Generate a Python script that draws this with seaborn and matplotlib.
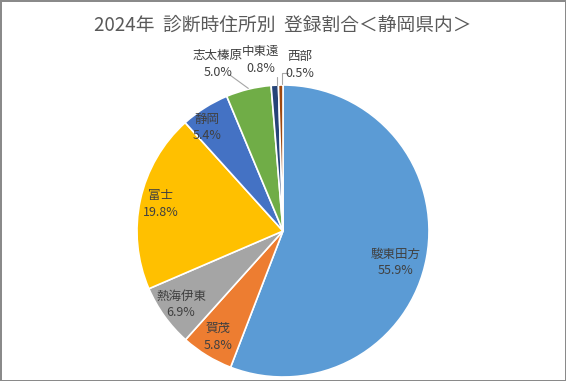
import numpy as np
import matplotlib
import seaborn as sns
import matplotlib.pyplot as plt

matplotlib.use("Agg")
sns.set_theme(style="white")
plt.rcParams["font.family"] = ["Noto Sans CJK JP", "DejaVu Sans"]

# data
regions = ["駿東田方", "賀茂", "熱海伊東", "富士", "静岡", "志太榛原", "中東遠", "西部"]
shares = [55.9, 5.8, 6.9, 19.8, 5.4, 5.0, 0.8, 0.5]
pct_labels = ["55.9%", "5.8%", "6.9%", "19.8%", "5.4%", "5.0%", "0.8%", "0.5%"]
title = "2024年  診断時住所別  登録割合＜静岡県内＞"

colors = sns.color_palette(["#5B9BD5", "#ED7D31", "#A5A5A5", "#FFC000",
                            "#4472C4", "#70AD47", "#264478", "#9E480E"])

# layout: inside label (radius, angle shift in deg), outside label spots for tiny ones
inside_pos = {"駿東田方": (0.80, -5.0), "賀茂": (0.85, 0), "熱海伊東": (0.86, 0),
              "富士": (0.86, 0), "静岡": (0.88, 4.0)}
outside_xy = {"志太榛原": (-0.445, 1.144), "中東遠": (-0.151, 1.171), "西部": (0.116, 1.137)}
leader_start = {"志太榛原": [(-0.363, 1.068)],
                "中東遠": [(-0.041, 1.055)],
                "西部": [(0.034, 1.082), (-0.007, 1.082)]}

fig = plt.figure(figsize=(5.66, 3.81), dpi=100)
fig.patch.set_edgecolor("#8a8a8a")
fig.patch.set_linewidth(2)
ax = fig.add_axes([0, 0, 1, 1])

wedges, _ = ax.pie(shares, colors=colors, startangle=90, counterclock=False,
                   wedgeprops=dict(edgecolor="white", linewidth=1.2))

txt_color = "#404040"
for w, name, pct in zip(wedges, regions, pct_labels):
    mid_deg = (w.theta1 + w.theta2) / 2
    if name in inside_pos:
        r, shift = inside_pos[name]
        a = np.deg2rad(mid_deg + shift)
        ax.text(r * np.cos(a), r * np.sin(a), f"{name}\n{pct}", ha="center",
                va="center", fontsize=9, color=txt_color, linespacing=1.35)
    else:
        mid = np.deg2rad(mid_deg)
        x, y = outside_xy[name]
        ax.text(x, y, f"{name}\n{pct}", ha="center", va="center", fontsize=9,
                color=txt_color, linespacing=1.35)
        pts = leader_start[name] + [(1.005 * np.cos(mid), 1.005 * np.sin(mid))]
        if name == "西部":
            pts[-1] = (pts[-2][0], pts[-1][1])
        if name == "中東遠":
            pts[-1] = (pts[0][0], pts[-1][1])
        xs, ys = zip(*pts)
        ax.plot(xs, ys, color="#a6a6a6", linewidth=0.8)

ax.set_xlim(-283 / 146, 283 / 146)
ax.set_ylim(-150 / 146, 231 / 146)
ax.set_aspect("equal")
ax.axis("off")

fig.text(0.5, 1 - 25 / 381, title, ha="center", va="center", fontsize=13.5,
         color="#595959")

plt.savefig("out.png", dpi=100)
